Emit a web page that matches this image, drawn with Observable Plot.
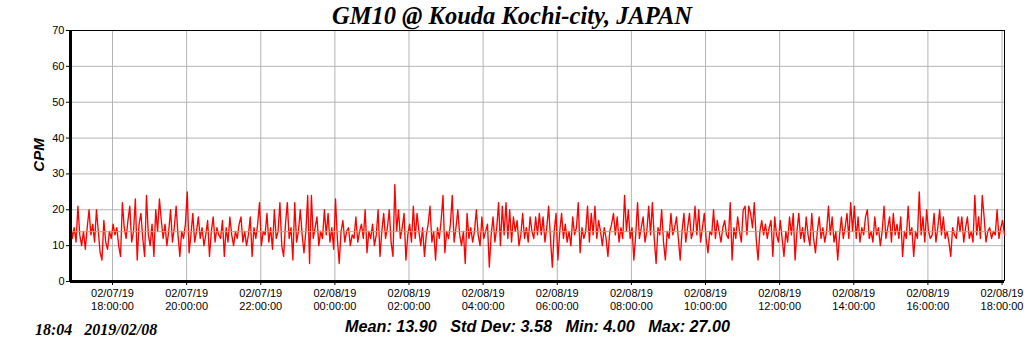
<!DOCTYPE html>
<html><head><meta charset="utf-8">
<script src="https://cdn.jsdelivr.net/npm/d3@7"></script>
<script src="https://cdn.jsdelivr.net/npm/@observablehq/plot@0.6"></script>
<style>
body{margin:0;background:#fff;}
#wrap{position:relative;width:1024px;height:351px;overflow:hidden;}
#chart{position:absolute;left:0;top:0;}
#title{position:absolute;top:2px;left:0;width:1024px;text-align:center;font:italic bold 24.5px "Liberation Serif",serif;color:#000;}
#ylab{position:absolute;left:38px;top:155px;transform:translate(-50%,-50%) rotate(-90deg);font:italic bold 15px "Liberation Sans",Arial,sans-serif;}
#stamp{position:absolute;left:35px;top:321px;font:italic bold 16px "Liberation Serif",serif;white-space:pre;}
#stats{position:absolute;left:345px;top:317px;font:italic bold 16.2px "Liberation Sans",Arial,sans-serif;white-space:pre;}
</style></head>
<body>
<div id="wrap">
<div id="chart"></div>
<div id="title"></div>
<div id="ylab"></div>
<div id="stamp"></div>
<div id="stats"></div>
</div>
<script>
const titleText = "GM10 @ Kouda Kochi-city, JAPAN";
const yLabel = "CPM";
const stampText = "18:04   2019/02/08";
const statNames = ["Mean", "Std Dev", "Min", "Max"];
const statValues = [13.90, 3.58, 4.00, 27.00];
const startTime = "2019-02-07T16:52:00Z";
const endTime = "2019-02-08T18:04:00Z";
const stepMinutes = 3;
const yTicks = [0, 10, 20, 30, 40, 50, 60, 70];
const xTicks = ["2019-02-07T18:00:00Z","2019-02-07T20:00:00Z","2019-02-07T22:00:00Z","2019-02-08T00:00:00Z","2019-02-08T02:00:00Z","2019-02-08T04:00:00Z","2019-02-08T06:00:00Z","2019-02-08T08:00:00Z","2019-02-08T10:00:00Z","2019-02-08T12:00:00Z","2019-02-08T14:00:00Z","2019-02-08T16:00:00Z","2019-02-08T18:00:00Z"];
const cpm = [
17,12,15,11,21,13,10,14,9,15, 20,13,16,11,20,14,8,6,17,11, 9,14,12,16,13,15,10,7,22,15,
12,17,21,11,14,23,6,16,19,12, 7,24,13,10,16,7,20,14,23,17, 12,16,10,14,20,11,15,21,13,7,
14,12,16,25,8,13,19,11,14,18, 12,15,10,13,17,7,14,18,11,15, 13,12,17,7,15,11,18,13,10,14,
12,16,18,11,14,10,13,18,7,15, 12,16,22,10,14,13,19,11,15,9, 20,12,14,22,10,7,16,22,12,15,
6,22,11,14,20,13,8,
14,24,5,24,12,15,18,10,14,12, 20,13,19,11,15,9,23,12,5,14, 17,11,14,15,10,13,12,18,11,14,
16,12,20,8,14,12,16,10,13,20, 7,14,19,12,15,20,11,7,27,14, 20,12,15,19,6,13,16,11,21,12,
19,14,10,15,7,13,16,21,11,14, 6,15,12,17,24,8,14,12,16,24, 11,15,20,13,10,14,5,19,12,15,
11,14,20,13,10,18,12,14,16,4, 13,18,11,15,22,10,21,13,22,12, 20,11,18,14,17,10,13,19,12,15,
11,18,14,12,18,13,19,
13,18,11,15,21,12,4,14,19,6, 14,19,12,16,11,14,10,18,13,15, 22,8,15,12,14,21,11,19,13,21,
12,17,14,10,15,12,7,14,16,19, 13,18,11,15,12,24,14,20,12,15, 6,13,22,12,15,18,11,14,21,13,
22,12,5,15,13,20,11,6,14,12, 19,13,15,18,12,6,14,19,11,15, 19,12,14,21,13,20,11,15,19,12,
8,14,13,20,12,17,14,11,15,17, 13,12,22,6,15,12,18,14,11,20, 21,13,21,19,15,22,12,6,14,17,
13,16,12,15,17,7,18,
13,11,17,12,7,14,11,18,13,19, 6,14,19,12,15,11,18,13,10,19, 12,8,14,18,12,15,11,14,21,13,
18,11,14,6,13,18,12,15,19,12, 22,14,21,12,18,11,15,13,18,20, 12,14,11,18,13,15,10,14,21,12,
15,18,11,19,13,16,12,18,7,14, 12,21,13,15,7,14,12,25,13,18, 11,20,14,12,13,19,11,15,20,13,
18,12,14,11,7,15,13,12,18,14, 18,11,15,18,12,14,11,24,13,18, 12,24,18,11,14,15,12,14,13,20,
12,15,17,13
];

const t0 = new Date(startTime);
const t1 = new Date(endTime);
const data = cpm.map((v, i) => ({t: new Date(+t0 + i * stepMinutes * 60000), v}));
const xTickDates = xTicks.map(s => new Date(s));
const fmtD = d3.utcFormat("%m/%d/%y");
const fmtT = d3.utcFormat("%H:%M:%S");

document.getElementById("title").textContent = titleText;
document.getElementById("ylab").textContent = yLabel;
document.getElementById("stamp").textContent = stampText;
document.getElementById("stats").textContent = statNames.map((n, i) => `${n}: ${statValues[i].toFixed(2)}`).join("   ");

const chart = Plot.plot({
  width: 1024, height: 351,
  marginLeft: 70, marginRight: 20, marginTop: 30, marginBottom: 70,
  style: {fontFamily: "'Liberation Sans', Arial, sans-serif", fontSize: "11px", background: "transparent", color: "#000"},
  x: {type: "utc", domain: [t0, t1], label: null},
  y: {domain: [0, 70], label: null},
  marks: [
    Plot.gridX(xTickDates, {stroke: "#b4b4b4", strokeOpacity: 1}),
    Plot.gridY(yTicks, {stroke: "#b4b4b4", strokeOpacity: 1}),
    Plot.ruleX([t1], {stroke: "#000", strokeWidth: 1}),
    Plot.ruleY([70], {stroke: "#000", strokeWidth: 1}),
    Plot.lineY(data, {x: "t", y: "v", stroke: "#ff0000", strokeWidth: 1.35}),
    Plot.ruleY([statValues[0]], {stroke: "#e0a800", strokeWidth: 1}),
    Plot.ruleY([0], {stroke: "#000", strokeWidth: 3}),
    Plot.ruleX([t0], {stroke: "#000", strokeWidth: 3}),
    Plot.axisY(yTicks, {tickSize: 4, tickPadding: 2, label: null}),
    Plot.axisX(xTickDates, {tickSize: 4, tickPadding: 3, label: null, lineHeight: 1.15,
      tickFormat: d => fmtD(d) + "\n" + fmtT(d)})
  ]
});
document.getElementById("chart").appendChild(chart);
</script>
</body></html>
